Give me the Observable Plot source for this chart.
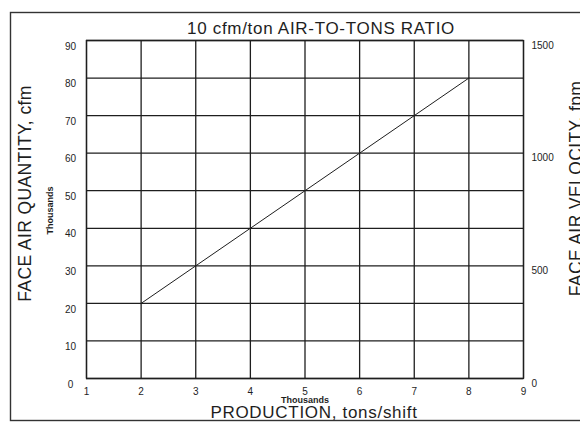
<!DOCTYPE html>
<html>
<head>
<meta charset="utf-8">
<script src="https://cdn.jsdelivr.net/npm/d3@7"></script>
<script src="https://cdn.jsdelivr.net/npm/@observablehq/plot@0.6"></script>
<style>
  html, body { margin: 0; padding: 0; background: #fff; }
  #chart svg { display: block; }
</style>
</head>
<body>
<div id="chart"></div>
<script>
const title = "10 cfm/ton AIR-TO-TONS RATIO";
const xLabel = "PRODUCTION, tons/shift";
const yLabel = "FACE AIR QUANTITY, cfm";
const y2Label = "FACE AIR VELOCITY, fpm";
const unitsLabel = "Thousands";

const xTicks = [1, 2, 3, 4, 5, 6, 7, 8, 9];
const yTicks = [0, 10, 20, 30, 40, 50, 60, 70, 80, 90];
const velTicks = [0, 500, 1000, 1500];
const velMax = 1500;
const yMax = 90;

// production (thousand tons/shift) vs air quantity (thousand cfm)
const production = [2, 3, 4, 5, 6, 7, 8];
const airQuantity = [20, 30, 40, 50, 60, 70, 80];

const data = production.map((p, i) => ({x: p, y: airQuantity[i]}));
const ink = "#1e1e1e";
const font = "Liberation Sans, Arial, sans-serif";
const mid = {textAnchor: "middle", lineAnchor: "middle"};

const chart = Plot.plot({
  width: 580,
  height: 425,
  marginLeft: 86,
  marginRight: 57,
  marginTop: 40,
  marginBottom: 47,
  style: {fontFamily: font, background: "#fff", color: ink},
  x: {domain: [1, 9], axis: null},
  y: {domain: [0, yMax], axis: null},
  marks: [
    // outer border of the figure
    Plot.frame({stroke: "#333", strokeWidth: 1.4, insetLeft: -76, insetTop: -28, insetBottom: -42, insetRight: -80}),
    Plot.ruleX(xTicks, {stroke: ink, strokeWidth: 1.3}),
    Plot.ruleY(yTicks, {stroke: ink, strokeWidth: 1.3}),
    Plot.frame({stroke: ink, strokeWidth: 1.3}),
    Plot.line(data, {x: "x", y: "y", stroke: ink, strokeWidth: 1}),
    // left axis labels
    Plot.text(yTicks, {x: 1, y: d => d, text: d => String(d), ...mid, dx: -16, dy: 6, fontSize: 10, fill: ink}),
    // bottom axis labels
    Plot.text(xTicks, {x: d => d, y: 0, text: d => String(d), ...mid, dy: 13, fontSize: 10, fill: ink}),
    // right axis labels (velocity)
    Plot.text(velTicks, {x: 9, y: d => d * yMax / velMax, text: d => String(d), textAnchor: "start", lineAnchor: "middle", dx: 8, dy: 5, fontSize: 10, fill: ink}),
    // title
    Plot.text([title], {frameAnchor: "top", text: d => d, ...mid, dx: 16, dy: -12, fontSize: 17, fill: ink}),
    // x label
    Plot.text([xLabel], {frameAnchor: "bottom", text: d => d, ...mid, dx: 9, dy: 34, fontSize: 17, fill: ink}),
    Plot.text([unitsLabel], {frameAnchor: "bottom", text: d => d, ...mid, dx: 0, dy: 22, fontSize: 9, fontWeight: "bold", fill: ink}),
    // y label
    Plot.text([yLabel], {frameAnchor: "left", text: d => d, ...mid, rotate: -90, dx: -61, dy: -16, fontSize: 17.5, fill: ink}),
    Plot.text([unitsLabel], {frameAnchor: "left", text: d => d, ...mid, rotate: -90, dx: -36, dy: 1, fontSize: 9, fontWeight: "bold", fill: ink}),
    // right label
    Plot.text([y2Label], {frameAnchor: "right", text: d => d, ...mid, rotate: -90, dx: 53, dy: -21, fontSize: 17.5, fill: ink})
  ]
});
// wider letter spacing on the large labels, like the plotter lettering
d3.select(chart).selectAll('g[font-size="17"]').style("letter-spacing", "0.7px");
d3.select(chart).selectAll('g[font-size="17.5"]').style("letter-spacing", "0.4px");
document.getElementById("chart").appendChild(chart);
</script>
</body>
</html>
